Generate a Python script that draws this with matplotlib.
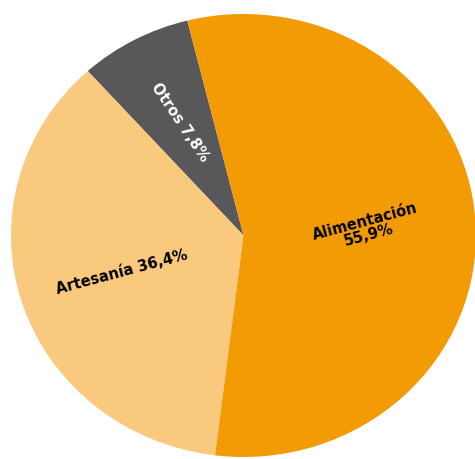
import numpy as np
import matplotlib.pyplot as plt

# sectores (en orden antihorario desde el borde superior)
sectores = ["Otros", "Artesanía", "Alimentación"]
porcentajes = [7.8, 36.4, 55.9]
etiquetas = ["Otros 7,8%", "Artesanía 36,4%", "Alimentación\n55,9%"]

colores = ["#58585a", "#f9c97e", "#f29b05"]
color_texto = ["white", "black", "black"]
giro_texto = [-56, 15, 15]
radio_texto = [0.58, 0.55, 0.53]

fig = plt.figure(figsize=(4.75, 4.59), dpi=100)
ax = fig.add_axes([11 / 475, 2 / 459, 465 / 475, 443 / 459])

wedges, _ = ax.pie(porcentajes, colors=colores, startangle=104,
                   counterclock=True, radius=1,
                   wedgeprops=dict(linewidth=0))

# la tarta queda ligeramente ensanchada en horizontal
ax.set_aspect('auto')
ax.set_xlim(-1, 1)
ax.set_ylim(-1, 1)

for w, txt, col, rot, r in zip(wedges, etiquetas, color_texto, giro_texto, radio_texto):
	ang = np.deg2rad((w.theta1 + w.theta2) / 2)
	ax.text(r * np.cos(ang), r * np.sin(ang), txt, color=col, rotation=rot,
	        rotation_mode='anchor', ha='center', va='center',
	        fontsize=10.5, fontweight='bold', family='DejaVu Sans',
	        linespacing=0.95, multialignment='center')

fig.savefig("out.png", dpi=100)
